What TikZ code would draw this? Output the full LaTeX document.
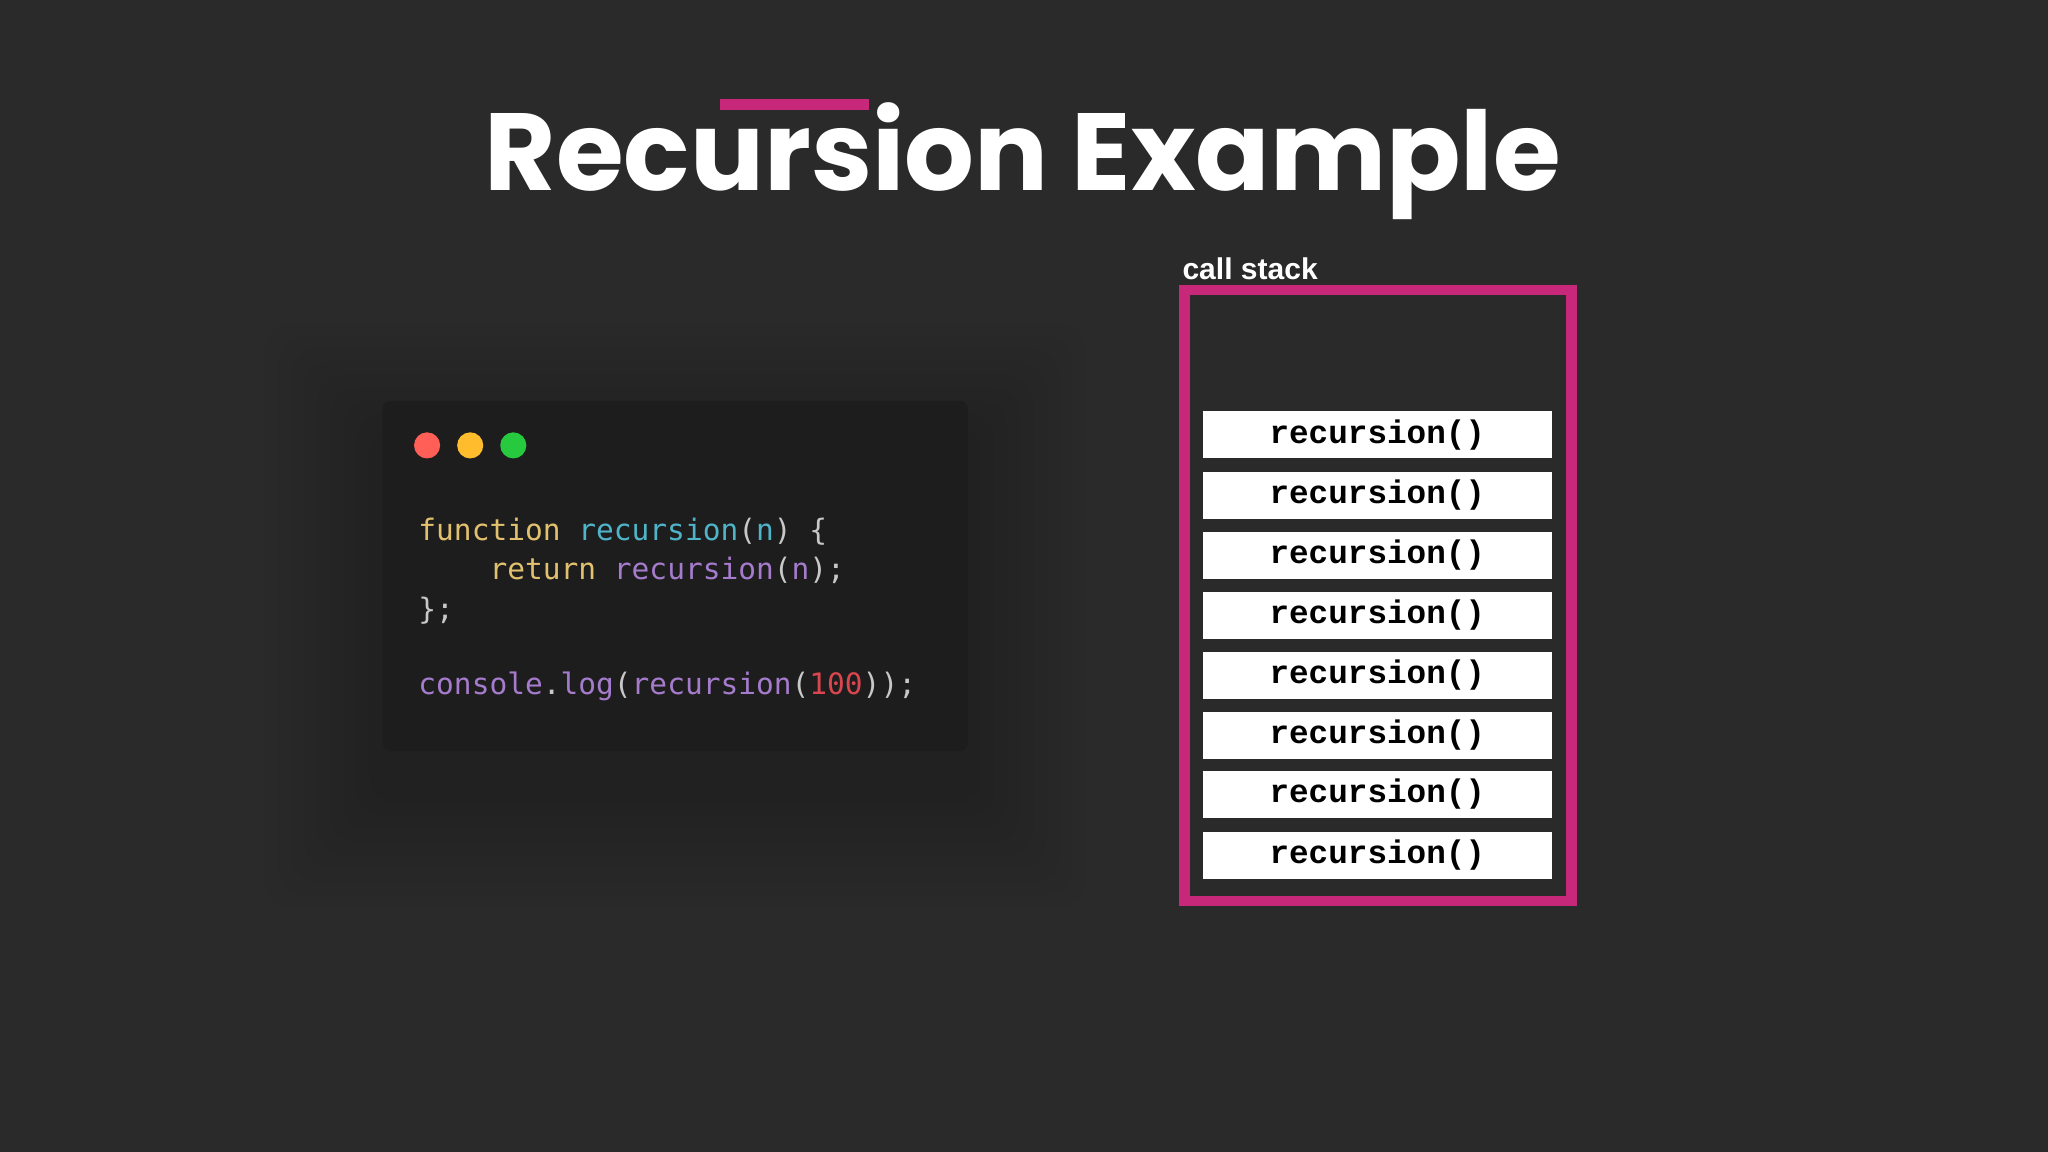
\documentclass[tikz,border=0pt]{standalone}
\usepackage{fontspec}
\setmainfont{Poppins}
\setsansfont{Liberation Sans}
\setmonofont{DejaVu Sans Mono}
\newfontfamily\framefont{Liberation Mono}
\definecolor{bgc}{HTML}{2A2A2A}
\definecolor{wincol}{HTML}{1D1D1E}
\definecolor{pinkc}{HTML}{C8287A}
\definecolor{kwcol}{HTML}{E2C16E}
\definecolor{fncol}{HTML}{4FB4C8}
\definecolor{purcol}{HTML}{A57BCB}
\definecolor{numcol}{HTML}{D9464E}
\definecolor{puncol}{HTML}{C8C8C8}
\tikzset{every picture/.style={line width=0.75pt}}
\tikzset{
  stackframe/.style={fill=white, minimum width=267pt, minimum height=36pt, inner sep=0pt,
    font=\framefont\bfseries\fontsize{25}{25}\selectfont},
  codeline/.style={anchor=base west, inner sep=0pt, font=\ttfamily\fontsize{22.6}{22.6}\selectfont, text=puncol},
  winDot/.style={circle, minimum size=20pt, inner sep=0pt}
}
\begin{document}
\begin{tikzpicture}[x=1pt,y=1pt,yscale=-1]
        %background
        \fill[bgc] (0,0) rectangle (1568,882);
        \useasboundingbox (0,0) rectangle (1568,882);

        %Title
        \node (title) [anchor=base, text=white, font=\bfseries\fontsize{84}{84}\selectfont, inner sep=0pt] at (783,146) {Recursion Example};
        \fill[pinkc] (551,76) rectangle (665,84);

        %Shadow of the code window
        \foreach \s in {10,20,...,90}
          \fill[black, opacity=0.025, rounded corners=20pt] (293-\s,307-\s+30) rectangle (741+\s,575+\s+30);
        %Code window
        \fill[wincol, rounded corners=6pt] (293,307) rectangle (741,575);
        \node (red) [winDot, fill={rgb,255:red,255;green,95;blue,86}] at (327,341) {};
        \node (yellow) [winDot, fill={rgb,255:red,255;green,189;blue,46}] at (360,341) {};
        \node (green) [winDot, fill={rgb,255:red,39;green,201;blue,63}] at (393,341) {};

        % Code lines
        \node (line1) [codeline] at (320,414) {\textcolor{kwcol}{function} \textcolor{fncol}{recursion}(\textcolor{fncol}{n}) \{};
        \node (line2) [codeline] at (320,444) {\phantom{xxxx}\textcolor{kwcol}{return} \textcolor{purcol}{recursion}(\textcolor{purcol}{n});};
        \node (line3) [codeline] at (320,474) {\};};
        \node (line4) [codeline] at (320,532) {\textcolor{purcol}{console}.\textcolor{purcol}{log}(\textcolor{purcol}{recursion}(\textcolor{numcol}{100}));};

        % Call stack
        \node (stacklabel) [anchor=base west, inner sep=0pt, text=white, font=\sffamily\bfseries\fontsize{23}{23}\selectfont] at (905,214) {call stack};
        \draw[pinkc, line width=8pt] (907,222) rectangle (1203,690);
        \foreach \yy [count=\i] in {333,379,425,471,517,563,608,655}
          \node (frame\i) [stackframe] at (1054.5,\yy) {recursion()};
    \end{tikzpicture}
\end{document}
